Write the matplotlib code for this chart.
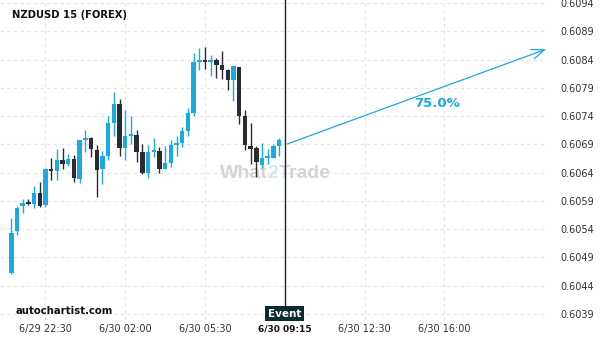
import matplotlib
matplotlib.use('Agg')
import matplotlib.pyplot as plt
import numpy as np

# datos de las velas (15 min, desde 6/29 21:00)
opens = [0.60462, 0.60536, 0.60580, 0.60588, 0.60585, 0.60604, 0.60582, 0.60646,
         0.60643, 0.60662, 0.60656, 0.60664, 0.60629, 0.60698, 0.60701, 0.60680,
         0.60647, 0.60670, 0.60728, 0.60761, 0.60684, 0.60705, 0.60707, 0.60677,
         0.60640, 0.60677, 0.60678, 0.60647, 0.60657, 0.60689, 0.60692, 0.60714,
         0.60746, 0.60836, 0.60838, 0.60836, 0.60839, 0.60831, 0.60822, 0.60803,
         0.60827, 0.60740, 0.60687, 0.60684, 0.60653, 0.60666, 0.60666, 0.60687]
closes = [0.60533, 0.60577, 0.60586, 0.60585, 0.60604, 0.60581, 0.60646, 0.60643,
          0.60662, 0.60656, 0.60664, 0.60631, 0.60698, 0.60701, 0.60681, 0.60645,
          0.60669, 0.60728, 0.60761, 0.60684, 0.60705, 0.60708, 0.60677, 0.60640,
          0.60677, 0.60679, 0.60647, 0.60657, 0.60689, 0.60692, 0.60714, 0.60746,
          0.60836, 0.60837, 0.60836, 0.60840, 0.60831, 0.60822, 0.60803, 0.60829,
          0.60741, 0.60688, 0.60682, 0.60658, 0.60666, 0.60668, 0.60687, 0.60697]
highs = [0.60559, 0.60580, 0.60593, 0.60593, 0.60616, 0.60623, 0.60648, 0.60665,
         0.60681, 0.60683, 0.60672, 0.60671, 0.60698, 0.60715, 0.60703, 0.60688,
         0.60679, 0.60740, 0.60783, 0.60770, 0.60751, 0.60741, 0.60715, 0.60690,
         0.60688, 0.60701, 0.60685, 0.60687, 0.60698, 0.60704, 0.60720, 0.60754,
         0.60851, 0.60860, 0.60862, 0.60848, 0.60843, 0.60855, 0.60824, 0.60829,
         0.60827, 0.60750, 0.60727, 0.60687, 0.60692, 0.60682, 0.60690, 0.60701]
lows = [0.60460, 0.60530, 0.60569, 0.60582, 0.60578, 0.60579, 0.60579, 0.60626,
        0.60626, 0.60646, 0.60652, 0.60624, 0.60622, 0.60676, 0.60667, 0.60596,
        0.60619, 0.60662, 0.60705, 0.60670, 0.60662, 0.60690, 0.60659, 0.60638,
        0.60630, 0.60668, 0.60639, 0.60646, 0.60649, 0.60670, 0.60685, 0.60705,
        0.60740, 0.60822, 0.60823, 0.60811, 0.60807, 0.60806, 0.60787, 0.60766,
        0.60726, 0.60680, 0.60655, 0.60633, 0.60648, 0.60655, 0.60665, 0.60670]

# eje de tiempo
tick_idx = [6, 20, 34, 48, 62, 76]
tick_labels = ['6/29 22:30', '6/30 02:00', '6/30 05:30', '6/30 09:15', '6/30 12:30', '6/30 16:00']
event_idx = 48

# proyeccion
start_price = 0.60689
target_idx = 94.3
target_price = 0.60860
prob_text = '75.0%'

price_ticks = [0.6039, 0.6044, 0.6049, 0.6054, 0.6059, 0.6064, 0.6069, 0.6074,
               0.6079, 0.6084, 0.6089, 0.6094]

BLUE = '#1ba9e1'
DARK = '#2a2b33'
EVENT = '#0c2a31'

fig = plt.figure(figsize=(6, 3.4), dpi=100)
ax = fig.add_axes([0, 20 / 340, 548 / 600, 320 / 340])

x = np.arange(len(opens))
for i in x:
    o, c, h, l = opens[i], closes[i], highs[i], lows[i]
    col = BLUE if c >= o else DARK
    ax.vlines(i, l, h, color=col, linewidth=1.0, zorder=3)
    bot = min(o, c)
    hgt = max(abs(c - o), 0.000025)
    ax.bar(i, hgt, bottom=bot, width=0.78, color=col, linewidth=0, zorder=4)

ax.set_xlim(-1.98, 94.2)
ax.set_ylim(0.60379, 0.609455)

ax.set_yticks(price_ticks)
ax.set_yticklabels(['%.4f' % p for p in price_ticks])
ax.yaxis.tick_right()
ax.set_xticks(tick_idx)
ax.set_xticklabels(tick_labels)
ax.tick_params(axis='both', length=0, labelsize=7, labelcolor='#333333')
ax.tick_params(axis='y', pad=9)
ax.tick_params(axis='x', pad=3)
for lab in ax.get_xticklabels():
    if lab.get_text() == tick_labels[tick_idx.index(event_idx)]:
        lab.set_fontweight('bold')
        lab.set_color('#111111')
        lab.set_fontsize(6.5)

ax.grid(True, linestyle=(0, (3, 3)), color='#e4e4e4', linewidth=0.8)
ax.set_axisbelow(True)
for s in ax.spines.values():
    s.set_visible(False)

# linea del evento
ax.axvline(event_idx, color=EVENT, linewidth=1.0, zorder=5)
ax.text(event_idx, 0.6039, 'Event', color='white', fontsize=7.5, fontweight='bold',
        ha='center', va='center', zorder=6,
        bbox=dict(boxstyle='square,pad=0.25', facecolor=EVENT, edgecolor='none'))

# flecha de proyeccion
ax.annotate('', xy=(target_idx, target_price), xytext=(event_idx, start_price),
            arrowprops=dict(arrowstyle='->,head_length=0.9,head_width=0.35',
                            color=BLUE, linewidth=0.9), zorder=6, annotation_clip=False)
ax.text(74.7, 0.60763, prob_text, color=BLUE, fontsize=9.5, fontweight='bold',
        ha='center', va='center')

# marca de agua
renderer = fig.canvas.get_renderer()
wx = 220 / 548
for part, col in [('What', '#d4d4d4'), ('2', '#cde8f4'), ('Trade', '#d4d4d4')]:
    t = ax.text(wx, 0.459, part, transform=ax.transAxes, fontsize=14, fontweight='bold',
                family='Liberation Sans', color=col, ha='left', va='center', zorder=1)
    bb = t.get_window_extent(renderer=renderer)
    wx += bb.width / ax.get_window_extent(renderer=renderer).width

fig.text(12 / 600, 1 - 15 / 340, 'NZDUSD 15 (FOREX)', fontsize=7.2, fontweight='bold',
         color='#111111', ha='left', va='center')
fig.text(16 / 600, 1 - 311 / 340, 'autochartist.com', fontsize=7.3, fontweight='bold',
         color='#111111', ha='left', va='center')

fig.savefig('out.png', dpi=100)
